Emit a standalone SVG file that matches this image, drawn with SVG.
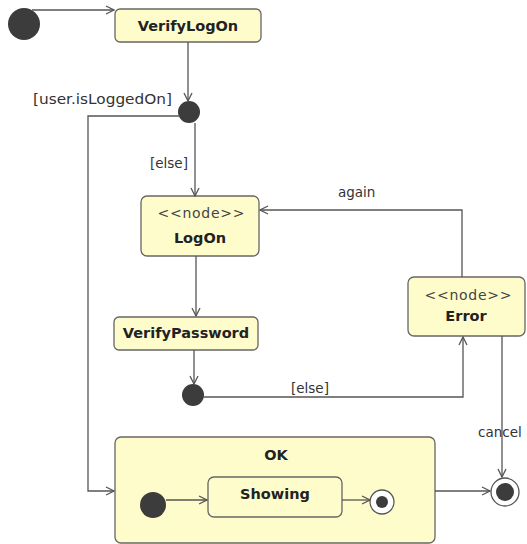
<svg xmlns="http://www.w3.org/2000/svg" width="527" height="544" viewBox="0 0 527 544">
<style>
.st{fill:#fffccc;stroke:#666;stroke-width:1.3}
.ln{fill:none;stroke:#555;stroke-width:1.3}
.dot{fill:#3c3c3c}
.b{font-family:"DejaVu Sans",sans-serif;font-weight:bold;font-size:14.5px;fill:#222;text-anchor:middle}
.st2{font-family:"DejaVu Sans",sans-serif;font-size:14px;fill:#444;text-anchor:middle}
.lb{font-family:"DejaVu Sans",sans-serif;font-size:13.5px;fill:#333}
</style>
<defs>
<marker id="a" markerWidth="10" markerHeight="10" refX="9" refY="5" orient="auto" markerUnits="userSpaceOnUse">
<path d="M1,1 L9,5 L1,9" fill="none" stroke="#555" stroke-width="1.3"/>
</marker>
</defs>
<g id="start"><circle class="dot" cx="24" cy="24" r="16"/></g>
<g id="VerifyLogOn"><rect class="st" x="115" y="9" width="146" height="33" rx="5"/><text class="b" x="188" y="31">VerifyLogOn</text></g>
<g id="decision1"><circle class="dot" cx="189" cy="112" r="11"/></g>
<g id="LogOn"><rect class="st" x="141" y="196" width="118" height="60" rx="6"/><text class="st2" x="201" y="218" textLength="87" lengthAdjust="spacing">&lt;&lt;node&gt;&gt;</text><text class="b" x="200" y="243">LogOn</text></g>
<g id="VerifyPassword"><rect class="st" x="114" y="317" width="144" height="33" rx="5"/><text class="b" x="186" y="338">VerifyPassword</text></g>
<g id="decision2"><circle class="dot" cx="193" cy="395" r="11"/></g>
<g id="Error"><rect class="st" x="408" y="277" width="117" height="59" rx="6"/><text class="st2" x="468" y="300" textLength="87" lengthAdjust="spacing">&lt;&lt;node&gt;&gt;</text><text class="b" x="466" y="321">Error</text></g>
<g id="OK"><rect class="st" x="115" y="437" width="320" height="106" rx="6"/><text class="b" x="276" y="460">OK</text>
<circle class="dot" cx="153" cy="505" r="13"/>
<rect class="st" x="208" y="477" width="134" height="40" rx="6"/><text class="b" x="275" y="499">Showing</text>
<circle cx="382" cy="502" r="12" fill="#fff" stroke="#555" stroke-width="1.3"/><circle class="dot" cx="382" cy="502" r="6"/>
</g>
<g id="final"><circle cx="505" cy="492" r="14" fill="#fff" stroke="#555" stroke-width="1.3"/><circle class="dot" cx="505" cy="492" r="9"/></g>
<g id="connectors">
<path class="ln" d="M32,10 L114,10" marker-end="url(#a)"/>
<path class="ln" d="M188,42 L188,101" marker-end="url(#a)"/>
<path class="ln" d="M180,116 L88,116 L88,491 L114,491" marker-end="url(#a)"/>
<path class="ln" d="M195,123 L195,196" marker-end="url(#a)"/>
<path class="ln" d="M196,256 L196,316" marker-end="url(#a)"/>
<path class="ln" d="M194,350 L194,384" marker-end="url(#a)"/>
<path class="ln" d="M203,397 L463,397 L463,337" marker-end="url(#a)"/>
<path class="ln" d="M462,277 L462,210 L260,210" marker-end="url(#a)"/>
<path class="ln" d="M502,336 L502,477" marker-end="url(#a)"/>
<path class="ln" d="M435,491 L490,491" marker-end="url(#a)"/>
<path class="ln" d="M166,500 L207,500" marker-end="url(#a)"/>
<path class="ln" d="M342,500 L370,500" marker-end="url(#a)"/>
<text class="lb" x="33" y="104" textLength="139" lengthAdjust="spacingAndGlyphs">[user.isLoggedOn]</text>
<text class="lb" x="150" y="168">[else]</text>
<text class="lb" x="291" y="393">[else]</text>
<text class="lb" x="338" y="197">again</text>
<text class="lb" x="478" y="437">cancel</text>
</g>
</svg>
